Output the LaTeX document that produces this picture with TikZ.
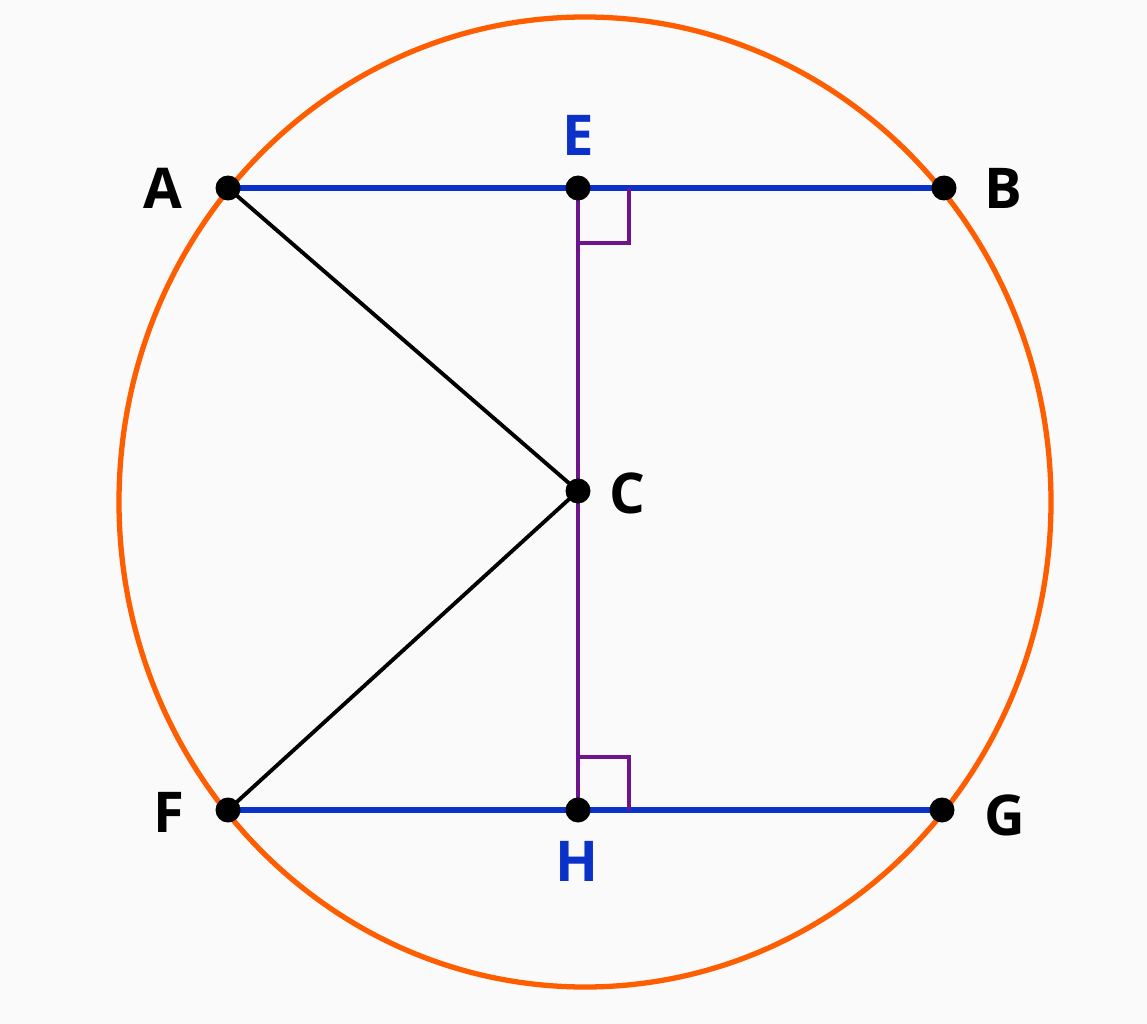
\documentclass[tikz,border=0pt]{standalone}
\usepackage{fontspec}
\setsansfont{Open Sans}
\definecolor{rim}{RGB}{255,94,0}
\definecolor{chord}{RGB}{10,50,200}
\definecolor{perp}{RGB}{110,20,140}
\begin{document}
\begin{tikzpicture}[x=.02cm,y=-.02cm,lbl/.style={font=\sffamily\bfseries\fontsize{32}{40}\selectfont,inner sep=0pt}]
	\fill[white!98!black](0,0)rectangle(1147,1024);
	\useasboundingbox(0,0)rectangle(1147,1024);
	\coordinate(A)at(228,188);\coordinate(E)at(578,188);\coordinate(B)at(944,188);
	\coordinate(C)at(578,491);
	\coordinate(F)at(228,810);\coordinate(H)at(578,810);\coordinate(G)at(942,810);
	\draw[rim,line width=3pt](585,502)ellipse[x radius=466,y radius=485];
	\draw[chord,line width=3.2pt](A)--(B) (F)--(G);
	\draw[line width=2.2pt](A)--(C)--(F);
	\draw[perp,line width=2.1pt](E)--(H);
	\draw[perp,line width=1.9pt](E)++(0,55)-|++(51,-55) (H)++(0,-53)-|++(51,53);
	\foreach \p in{A,E,B,C,F,H,G}{
		\fill(\p)circle(12.5);
	}
	\node[lbl]at(163,188){A};
	\node[lbl]at(1003,188){B};
	\node[lbl,chord]at(578,135){E};
	\node[lbl]at(627,493){C};
	\node[lbl]at(169,812){F};
	\node[lbl,chord]at(577,861){H};
	\node[lbl]at(1005,815){G};
\end{tikzpicture}
\end{document}
